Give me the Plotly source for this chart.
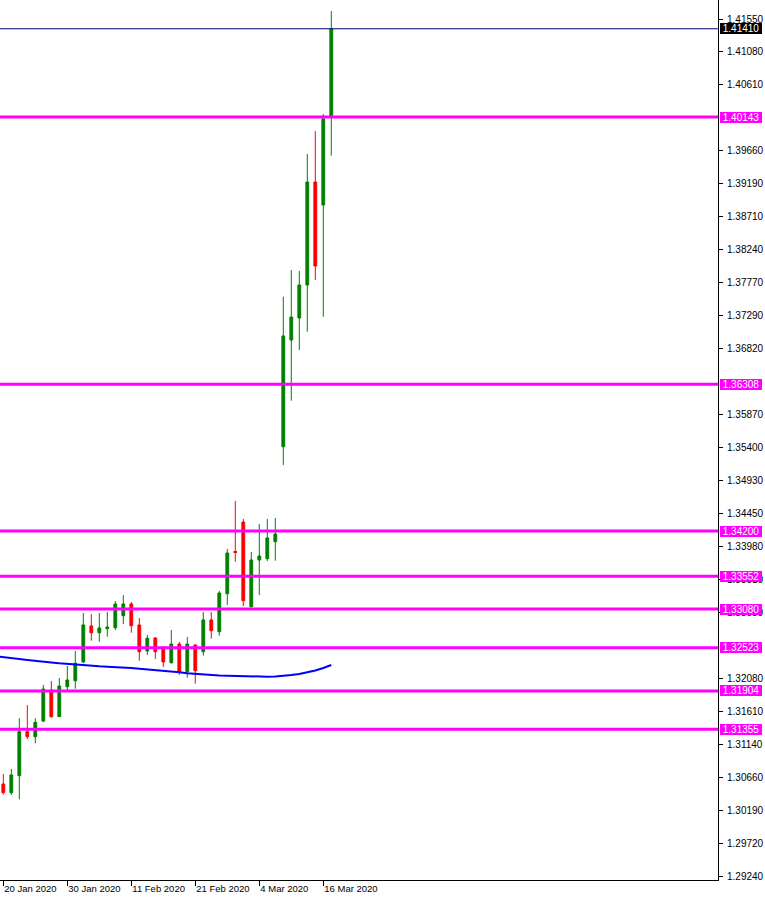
import plotly.graph_objects as go
import pandas as pd

# Daily candles, 20 Jan 2020 .. 17 Mar 2020 (trading days)
dates = pd.bdate_range("2020-01-20", "2020-03-17")

opens = [1.30568, 1.30444, 1.30688, 1.31319, 1.31247, 1.31473, 1.31918, 1.31535, 1.31965, 1.32051,
         1.32320, 1.32837, 1.32740, 1.32798, 1.32812, 1.32984, 1.33152, 1.32851, 1.32478, 1.32664,
         1.32535, 1.32310, 1.32578, 1.32181, 1.32564, 1.32468, 1.32923, 1.32755, 1.33300, 1.33906,
         1.34329, 1.33114, 1.33784, 1.33803, 1.34047, 1.35410, 1.36942, 1.37258, 1.37732, 1.39210,
         1.38880, 1.40158]
highs = [1.30712, 1.30784, 1.31512, 1.31702, 1.31512, 1.31990, 1.32047, 1.32090, 1.32262, 1.32478,
         1.33023, 1.33009, 1.33023, 1.33037, 1.33195, 1.33281, 1.33181, 1.32951, 1.32707, 1.32678,
         1.32535, 1.32779, 1.32607, 1.32679, 1.32571, 1.33037, 1.33037, 1.33339, 1.33942, 1.34631,
         1.34373, 1.33899, 1.34301, 1.34373, 1.34387, 1.37564, 1.37947, 1.37933, 1.39612, 1.39942,
         1.40186, 1.41665]
lows = [1.30415, 1.30411, 1.30349, 1.31214, 1.31153, 1.31454, 1.31520, 1.31530, 1.31908, 1.31937,
        1.32301, 1.32625, 1.32611, 1.32683, 1.32779, 1.32865, 1.32740, 1.32338, 1.32420, 1.32363,
        1.32248, 1.32295, 1.32137, 1.32094, 1.32008, 1.32410, 1.32654, 1.32697, 1.33138, 1.33760,
        1.33124, 1.33102, 1.33281, 1.33770, 1.33774, 1.35148, 1.36071, 1.36799, 1.37061, 1.37803,
        1.37276, 1.39588]
closes = [1.30444, 1.30698, 1.31319, 1.31247, 1.31454, 1.31932, 1.31535, 1.31975, 1.32061, 1.32301,
          1.32851, 1.32740, 1.32808, 1.32822, 1.33152, 1.33152, 1.32841, 1.32468, 1.32660, 1.32468,
          1.32320, 1.32578, 1.32181, 1.32578, 1.32195, 1.32923, 1.32769, 1.33310, 1.33884, 1.33892,
          1.33200, 1.33784, 1.33841, 1.34100, 1.34157, 1.37000, 1.37272, 1.37732, 1.39210, 1.38004,
          1.40115, 1.41410]

# moving average, starting one bar before the first visible candle
ma_values = [1.32402, 1.32392, 1.32377, 1.32363, 1.32349, 1.32334, 1.32324, 1.32313, 1.32301, 1.32291,
             1.32281, 1.32277, 1.32267, 1.32258, 1.32252, 1.32248, 1.32241, 1.32234, 1.32224, 1.32215,
             1.32205, 1.32195, 1.32184, 1.32172, 1.32158, 1.32148, 1.32138, 1.32133, 1.32126, 1.32123,
             1.32119, 1.32115, 1.32112, 1.32109, 1.32109, 1.32112, 1.32119, 1.32133, 1.32148, 1.32169,
             1.32198, 1.32234, 1.32277]

level_prices = [1.40143, 1.36308, 1.34200, 1.33552, 1.33080, 1.32523, 1.31904, 1.31355]
current_price = 1.41410

# visible price-scale ticks (those fully hidden under level labels are omitted)
price_ticks = [1.41550, 1.41080, 1.40610, 1.39660, 1.39190, 1.38710, 1.38240, 1.37770,
               1.37290, 1.36820, 1.35870, 1.35400, 1.34930, 1.34450, 1.33980, 1.33510,
               1.33030, 1.32080, 1.31610, 1.31140, 1.30660, 1.30190, 1.29720, 1.29240]
date_tick_labels = ["20 Jan 2020", "30 Jan 2020", "11 Feb 2020", "21 Feb 2020", "4 Mar 2020", "16 Mar 2020"]

bar_index = list(range(len(opens)))
ma_index = list(range(-1, len(opens)))
label_to_idx = {d.strftime("%-d %b %Y"): i for i, d in enumerate(dates)}
date_tick_vals = [label_to_idx[t] for t in date_tick_labels]

GREEN = "#008000"
RED = "#ff0000"
MAGENTA = "#ff00ff"

fig = go.Figure()
fig.add_trace(go.Candlestick(
    x=bar_index, open=opens, high=highs, low=lows, close=closes,
    increasing=dict(line=dict(color=GREEN, width=1), fillcolor=GREEN),
    decreasing=dict(line=dict(color=RED, width=1), fillcolor=RED),
    whiskerwidth=0, hoverinfo="skip", showlegend=False,
))
fig.add_trace(go.Scatter(
    x=ma_index, y=ma_values, mode="lines",
    line=dict(color="#0000ff", width=2), hoverinfo="skip", showlegend=False,
))


def price_label(p, bg):
    fig.add_annotation(x=1, xref="paper", xanchor="left", xshift=2, y=p, yref="y",
                       text="&nbsp;" + f"{p:.5f}" + "&nbsp;", showarrow=False, bgcolor=bg,
                       font=dict(color="white", size=10, family="Liberation Sans"),
                       borderpad=0, borderwidth=0)


for p in level_prices:
    fig.add_shape(type="line", xref="paper", x0=0, x1=1, yref="y", y0=p, y1=p,
                  line=dict(color=MAGENTA, width=3), layer="above")
    price_label(p, MAGENTA)

fig.add_shape(type="line", xref="paper", x0=0, x1=1, yref="y", y0=current_price, y1=current_price,
              line=dict(color="#000070", width=1), layer="above")
price_label(current_price, "black")

fig.update_layout(
    width=765, height=898,
    margin=dict(l=0, r=47, t=0, b=18, autoexpand=False),
    paper_bgcolor="white", plot_bgcolor="white",
    font=dict(family="Liberation Sans", size=10, color="black"),
    boxgap=0.5,
    showlegend=False,
    xaxis=dict(
        range=[-0.4125, 89.34], showgrid=False, zeroline=False,
        showline=True, linecolor="black", linewidth=1,
        ticks="outside", ticklen=5, tickcolor="black",
        tickvals=date_tick_vals, ticktext=date_tick_labels,
        tickfont=dict(size=9.5, family="Liberation Sans", color="black"),
        ticklabelposition="outside right", tickangle=0, automargin=False,
        rangeslider=dict(visible=False), fixedrange=True,
    ),
    yaxis=dict(
        side="right", range=[1.29190, 1.41823], showgrid=False, zeroline=False,
        showline=True, linecolor="black", linewidth=1,
        ticks="outside", ticklen=4, tickcolor="black", automargin=False,
        ticklabelstandoff=2,
        tickvals=price_ticks, tickformat=".5f", fixedrange=True,
    ),
)

fig.write_html(
    "out.html",
    config={"displayModeBar": False},
    post_script="document.body.style.margin='0';document.body.style.overflow='hidden';",
)
